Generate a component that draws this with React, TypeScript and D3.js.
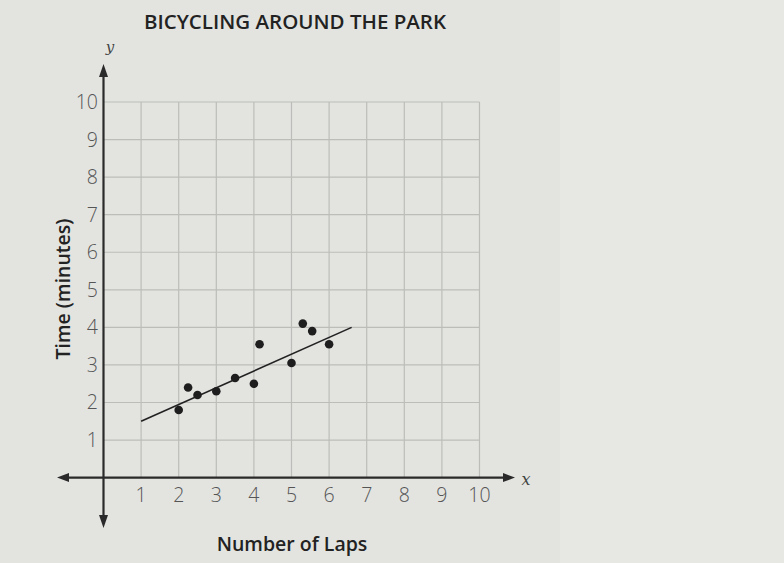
import React from "react";
import * as d3 from "d3";

const laps = [2, 2.25, 2.5, 3, 3.5, 4, 4.15, 5, 5.3, 5.55, 6];
const times = [1.8, 2.4, 2.2, 2.3, 2.65, 2.5, 3.55, 3.05, 4.1, 3.9, 3.55];
const fitLineX = [1, 6.6];
const fitLineY = [1.5, 4.0];
const xTicks = [1, 2, 3, 4, 5, 6, 7, 8, 9, 10];
const yTicks = [1, 2, 3, 4, 5, 6, 7, 8, 9, 10];
const title = "BICYCLING AROUND THE PARK";
const xLabel = "Number of Laps";
const yLabel = "Time (minutes)";

const W = 784;
const H = 563;

export default function App() {
  const x = d3.scaleLinear().domain([0, 10]).range([103.5, 479.5]);
  const y = d3.scaleLinear().domain([0, 10]).range([477.6, 102]);
  const gridColor = "#bcbdb9";
  const axisColor = "#2a2a2a";
  const tickColor = "#555";
  const font = "'Open Sans', 'Noto Sans', sans-serif";
  const line = d3
    .line<number>()
    .x((_, i) => x(fitLineX[i]))
    .y((d) => y(d));

  return (
    <svg
      width={W}
      height={H}
      style={{ position: "absolute", left: 0, top: 0, background: "#e3e4e0" }}
    >
      <rect x={0} y={0} width={W} height={H} fill="#e3e4e0" />
      <rect x={560} y={0} width={224} height={H} fill="#e7e7e4" />
      {/* grid */}
      {xTicks.map((t) => (
        <line
          key={"gx" + t}
          x1={x(t)}
          x2={x(t)}
          y1={y(0)}
          y2={y(10)}
          stroke={gridColor}
          strokeWidth={1.2}
        />
      ))}
      {yTicks.map((t) => (
        <line
          key={"gy" + t}
          x1={x(0)}
          x2={x(10)}
          y1={y(t)}
          y2={y(t)}
          stroke={gridColor}
          strokeWidth={1.2}
        />
      ))}
      {/* axes */}
      <line x1={62} x2={508} y1={y(0)} y2={y(0)} stroke={axisColor} strokeWidth={2.2} />
      <line x1={x(0)} x2={x(0)} y1={74} y2={520} stroke={axisColor} strokeWidth={2.2} />
      <path
        d={`M${57},${y(0)} L${69},${y(0) - 4.5} L${69},${y(0) + 4.5} Z`}
        fill={axisColor}
      />
      <path
        d={`M${515},${y(0)} L${503},${y(0) - 4.5} L${503},${y(0) + 4.5} Z`}
        fill={axisColor}
      />
      <path
        d={`M${x(0)},${64} L${x(0) - 4.5},${77} L${x(0) + 4.5},${77} Z`}
        fill={axisColor}
      />
      <path
        d={`M${x(0)},${528} L${x(0) - 4.5},${515} L${x(0) + 4.5},${515} Z`}
        fill={axisColor}
      />
      <text
        x={526}
        y={485}
        fontFamily="'DejaVu Serif', 'Liberation Serif', serif"
        fontStyle="italic"
        fontSize={16}
        fill="#444"
        textAnchor="middle"
      >
        x
      </text>
      <text
        x={110}
        y={52}
        fontFamily="'DejaVu Serif', 'Liberation Serif', serif"
        fontStyle="italic"
        fontSize={15}
        fill="#444"
        textAnchor="middle"
      >
        y
      </text>
      {/* tick labels */}
      {xTicks.map((t) => (
        <text
          key={"tx" + t}
          x={x(t)}
          y={502}
          fontFamily={font}
          fontWeight={300}
          fontSize={19.5}
          fill={tickColor}
          textAnchor="middle"
        >
          {t}
        </text>
      ))}
      {yTicks.map((t) => (
        <text
          key={"ty" + t}
          x={98}
          y={y(t) + 7}
          fontFamily={font}
          fontWeight={300}
          fontSize={19.5}
          fill={tickColor}
          textAnchor="end"
        >
          {t}
        </text>
      ))}
      {/* fit line */}
      <path d={line(fitLineY) || ""} stroke="#222" strokeWidth={1.6} fill="none" />
      {/* points */}
      {laps.map((l, i) => (
        <circle key={"p" + i} cx={x(l)} cy={y(times[i])} r={4.3} fill="#1e1e1e" />
      ))}
      {/* titles */}
      <text
        x={295}
        y={29}
        fontFamily={font}
        fontWeight={600}
        fontSize={20.5}
        fill="#222"
        textAnchor="middle"
      >
        {title}
      </text>
      <text
        x={292}
        y={551}
        fontFamily={font}
        fontWeight={600}
        fontSize={19.5}
        fill="#222"
        textAnchor="middle"
      >
        {xLabel}
      </text>
      <text
        transform={`translate(70,289) rotate(-90)`}
        fontFamily={font}
        fontWeight={600}
        fontSize={19.5}
        fill="#222"
        textAnchor="middle"
      >
        {yLabel}
      </text>
    </svg>
  );
}
